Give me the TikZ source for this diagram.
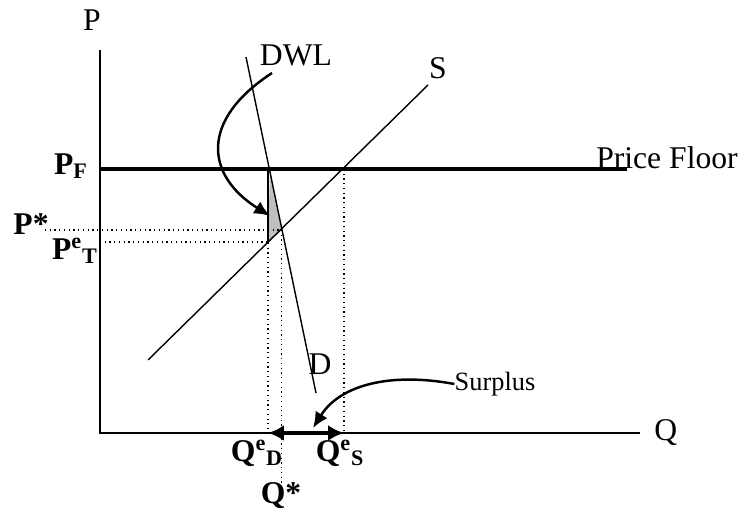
\documentclass[tikz,border=0pt]{standalone}
\usepackage{fontspec}
\setmainfont{Liberation Serif}
\usetikzlibrary{arrows.meta,positioning}

\begin{document}
\begin{tikzpicture}[
  x=0.02cm, y=-0.02cm,
  every node/.style={font=\fontsize{18}{20}\selectfont, inner sep=0pt},
  lbl/.style={font=\fontsize{18}{20}\selectfont\bfseries},
  axis/.style={line width=1.1pt},
  curve/.style={line width=0.8pt},
  guide/.style={dotted, line width=0.7pt},
  arrow/.style={-{Latex[length=9pt,width=8pt]}, line width=1.4pt},
  twoway/.style={{Latex[length=9pt,width=9pt]}-{Latex[length=9pt,width=9pt]}, line width=2.2pt}
]
\useasboundingbox (0,0) rectangle (741,516);

\coordinate (origin) at (100,433);
\coordinate (ptop) at (100,50);
\coordinate (qend) at (640,433);
\coordinate (floorL) at (100,169);
\coordinate (floorR) at (627,169);
\coordinate (sL) at (148,360);
\coordinate (sR) at (428,85);
\coordinate (dT) at (246,57);
\coordinate (dB) at (316,393);
\coordinate (eq) at (281.7,230);
\coordinate (qd) at (268,433);
\coordinate (qs) at (344,433);

\fill[gray!50] (270,169) -- (eq) -- (268,243) -- cycle;
\draw[line width=1.3pt] (268,169) -- (268,243);

\draw[guide] (45,230) -- (eq);
\draw[guide] (100,242) -- (268,242);
\draw[guide] (268,243) -- (qd);
\draw[guide] (eq) -- (281.7,483);
\draw[guide] (344,169) -- (qs);

\draw[axis] (ptop) -- (origin) -- (qend);
\draw[line width=2pt] (floorL) -- (floorR);
\draw[curve] (sL) -- (sR);
\draw[curve] (dT) -- (dB);

\node (p) at (92,20) {P};
\node (q) [right=8pt of qend] {Q};
\node (pf) at (71,166) [lbl] {P\textsubscript{F}};
\node (pstar) at (31,224) [lbl] {P*};
\node (pet) at (75,251) [lbl] {P\textsuperscript{e}\textsubscript{T}};
\node (qed) at (257,453) [lbl] {Q\textsuperscript{e}\textsubscript{D}};
\node (qes) at (340,453) [lbl] {Q\textsuperscript{e}\textsubscript{S}};
\node (qstar) at (281,496) [lbl] {Q*};
\node (floor) at (667,158) {Price Floor};
\node (s) at (438,68) {S};
\node (d) at (320,364) {D};
\node (dwl) at (296,55) {DWL};
\node (surplus) [font=\fontsize{15}{17}\selectfont] at (495,384) {Surplus};

\draw[twoway] (qd) -- (qs);
\draw[arrow] (272,73) .. controls (200,120) and (205,175) .. (270,216);
\draw[arrow] (surplus.west) .. controls (390,372) and (340,385) .. (313,428);

\end{tikzpicture}
\end{document}
